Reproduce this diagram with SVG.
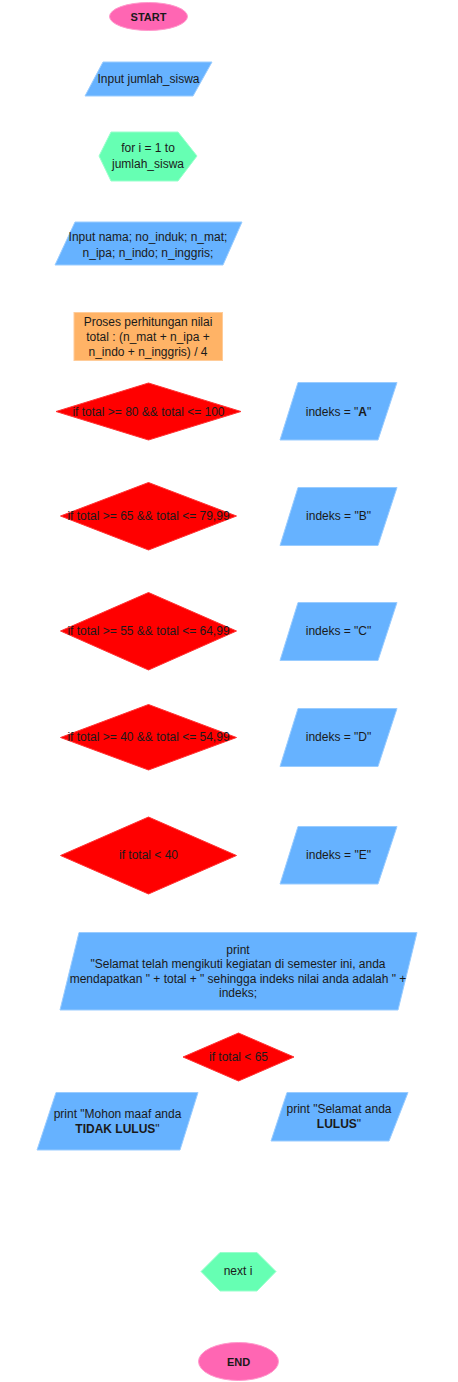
<svg xmlns="http://www.w3.org/2000/svg" width="458" height="1382" viewBox="0 0 458 1382">
<style>
text{font-family:"Liberation Sans",Arial,Helvetica,sans-serif;font-size:12px;fill:#1a1a1a;text-anchor:middle}
.term{fill:#FF66B3;stroke:#FF99CC;stroke-width:1}
.term-t{font-size:11px;font-weight:bold}
.io{fill:#66B2FF;stroke:#99CCFF;stroke-width:1}
.loop{fill:#66FFB3;stroke:#99FFCC;stroke-width:1}
.dec{fill:#FF0000;stroke:#FF3333;stroke-width:1}
.proc{fill:#FFB366;stroke:#FFCC99;stroke-width:1}
.b{font-weight:bold}
</style>
<rect width="458" height="1382" fill="#ffffff"/>
<g id="connectors"></g>
<g id="start"><ellipse class="term" cx="148.5" cy="16.5" rx="39" ry="14"/><text class="term-t" x="148.5" y="20.5">START</text></g>
<g id="input-jumlah"><polygon class="io" points="103,62 212,62 193,96 85,96"/><text x="148.5" y="83">Input jumlah_siswa</text></g>
<g id="for-loop"><polygon class="loop" points="111,132 178,132 197,156 178,181 111,181 99,156"/><text x="148" y="152">for i = 1 to</text><text x="148" y="168">jumlah_siswa</text></g>
<g id="input-data"><polygon class="io" points="75,222 242,222 223,265 55,265"/><text x="148" y="240.5">Input nama; no_induk; n_mat;</text><text x="148" y="256.5">n_ipa; n_indo; n_inggris;</text></g>
<g id="proses"><rect class="proc" x="74" y="312.5" width="148.5" height="48"/><text x="148" y="325.5">Proses perhitungan nilai</text><text x="148" y="340.5">total : (n_mat + n_ipa +</text><text x="148" y="355.5">n_indo + n_inggris) / 4</text></g>
<g id="if-a"><polygon class="dec" points="148.5,383 241,411.5 148.5,440 56,411.5"/><text x="148.5" y="415.5">if total &gt;= 80 &amp;&amp; total &lt;= 100</text></g>
<g id="indeks-a"><polygon class="io" points="298,382.5 397,382.5 378,440 280,440"/><text x="338.5" y="415.5">indeks = "<tspan class="b">A</tspan>"</text></g>
<g id="if-b"><polygon class="dec" points="148.5,482.5 236.5,516 148.5,550 60.5,516"/><text x="148.5" y="520">if total &gt;= 65 &amp;&amp; total &lt;= 79,99</text></g>
<g id="indeks-b"><polygon class="io" points="298,487.5 397,487.5 378,545.5 280,545.5"/><text x="338.5" y="520">indeks = "B"</text></g>
<g id="if-c"><polygon class="dec" points="148.5,592.5 236.5,631 148.5,670 60.5,631"/><text x="148.5" y="635">if total &gt;= 55 &amp;&amp; total &lt;= 64,99</text></g>
<g id="indeks-c"><polygon class="io" points="298,602.5 397,602.5 378,660.5 280,660.5"/><text x="338.5" y="635">indeks = "C"</text></g>
<g id="if-d"><polygon class="dec" points="148.5,704.5 236.5,737.5 148.5,770 60.5,737.5"/><text x="148.5" y="741">if total &gt;= 40 &amp;&amp; total &lt;= 54,99</text></g>
<g id="indeks-d"><polygon class="io" points="298,708.5 397,708.5 378,766.5 280,766.5"/><text x="338.5" y="741">indeks = "D"</text></g>
<g id="if-e"><polygon class="dec" points="148.5,817 236.5,855.5 148.5,894 60.5,855.5"/><text x="148.5" y="859">if total &lt; 40</text></g>
<g id="indeks-e"><polygon class="io" points="298,826.5 397,826.5 378,884 280,884"/><text x="338.5" y="859">indeks = "E"</text></g>
<g id="print-hasil"><polygon class="io" points="79,932.5 417,932.5 398,1010 60,1010"/><text x="238" y="953.5">print</text><text x="238" y="968">"Selamat telah mengikuti kegiatan di semester ini, anda</text><text x="238" y="983">mendapatkan " + total + " sehingga indeks nilai anda adalah " +</text><text x="238" y="997">indeks;</text></g>
<g id="if-lulus"><polygon class="dec" points="238.5,1033 294,1057 238.5,1081 183,1057"/><text x="238.5" y="1060.5">if total &lt; 65</text></g>
<g id="print-tidak-lulus"><polygon class="io" points="56,1092.5 198,1092.5 180,1150 37,1150"/><text x="117.5" y="1117.5">print "Mohon maaf anda</text><text x="117.5" y="1133"><tspan class="b">TIDAK LULUS</tspan>"</text></g>
<g id="print-lulus"><polygon class="io" points="287,1092.5 408,1092.5 389,1141 271,1141"/><text x="339" y="1113">print "Selamat anda</text><text x="339" y="1127.5"><tspan class="b">LULUS</tspan>"</text></g>
<g id="next-i"><polygon class="loop" points="220,1252.5 257,1252.5 276,1271.5 257,1291 220,1291 201,1271.5"/><text x="238" y="1275">next i</text></g>
<g id="end"><ellipse class="term" cx="238.5" cy="1361.5" rx="40" ry="19"/><text class="term-t" x="238.5" y="1365.5">END</text></g>
</svg>
